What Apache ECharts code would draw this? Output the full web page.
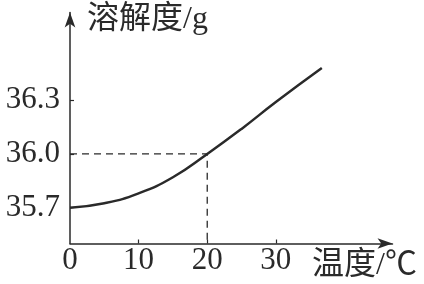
<!DOCTYPE html>
<html><head><meta charset="utf-8">
<script src="https://cdn.jsdelivr.net/npm/echarts@6/dist/echarts.min.js"></script>
<style>html,body{margin:0;padding:0;background:#fff}#c{width:424px;height:284px}</style>
</head><body><div id="c"></div>
<script>
var temperatures = [0, 5, 10, 15, 20, 25, 30, 36.7];
var solubility = [35.70, 35.725, 35.78, 35.87, 36.00, 36.14, 36.29, 36.48];
var xTickLabels = [0, 10, 20, 30];
var xTicks = [10, 20, 30];
var yTickLabels = [35.7, 36.0, 36.3];
var guidePoint = [20, 36.0];
var xAxisName = '温度/℃';
var yAxisName = '溶解度/g';

var serif = '"Liberation Serif", "Noto Sans CJK SC", serif';
var ink = '#2a2a2a';
var chart = echarts.init(document.getElementById('c'), null, {renderer: 'canvas'});
var yMin = 35.5;
chart.setOption({
  animation: false,
  grid: {left: 70, right: 31.5, top: 12.5, bottom: 40.5},
  xAxis: {
    type: 'value', min: 0, max: 47,
    axisLine: {show: true, symbol: ['none', 'arrow'], symbolSize: [8, 15], lineStyle: {color: ink, width: 1.5}},
    axisTick: {show: true, inside: true, length: 4, customValues: xTicks, lineStyle: {color: ink, width: 1.2}},
    axisLabel: {customValues: xTickLabels, margin: 2, fontFamily: serif, fontSize: 31, color: ink},
    splitLine: {show: false}
  },
  yAxis: {
    type: 'value', min: yMin, max: 36.79,
    axisLine: {show: true, symbol: ['none', 'arrow'], symbolSize: [8, 15], lineStyle: {color: ink, width: 1.5}},
    axisTick: {show: true, inside: true, length: 4, customValues: yTickLabels, lineStyle: {color: ink, width: 1.2}},
    axisLabel: {customValues: yTickLabels, margin: 10, fontFamily: serif, fontSize: 31, color: ink,
      formatter: function (v) { return v.toFixed(1); }},
    splitLine: {show: false}
  },
  graphic: [
    {type: 'text', left: 87, top: 4, style: {text: yAxisName, font: '32px ' + serif, fill: ink}},
    {type: 'text', left: 312, top: 250, style: {text: xAxisName, font: '32px ' + serif, fill: ink}}
  ],
  series: [
    {
      type: 'line', smooth: true, showSymbol: false,
      data: temperatures.map(function (t, i) { return [t, solubility[i]]; }),
      lineStyle: {color: ink, width: 2.5}
    },
    {
      type: 'line', showSymbol: false,
      data: [[0, guidePoint[1]], guidePoint, [guidePoint[0], yMin]],
      lineStyle: {color: ink, width: 1.3, type: [7, 5]}
    }
  ]
});
</script></body></html>
